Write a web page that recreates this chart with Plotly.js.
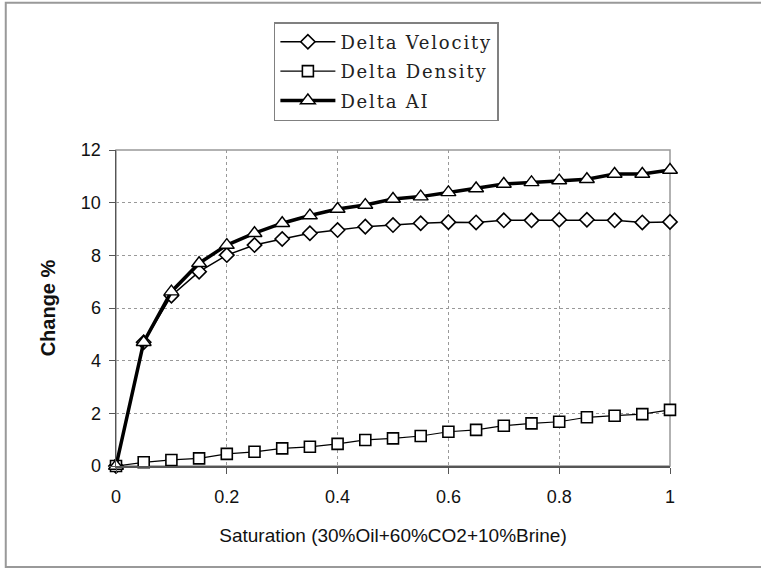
<!DOCTYPE html>
<html>
<head>
<meta charset="utf-8">
<script src="https://cdn.plot.ly/plotly-3.0.1.min.js"></script>
<style>html,body{margin:0;padding:0;background:#fff;}#chart{width:761px;height:569px;}
.legendtext{letter-spacing:1.8px;}</style>
</head>
<body>
<div id="chart"></div>
<script>
const saturation = [0,0.05,0.1,0.15,0.2,0.25,0.3,0.35,0.4,0.45,0.5,0.55,0.6,0.65,0.7,0.75,0.8,0.85,0.9,0.95,1.0];
const deltaVelocity = [0,4.7,6.47,7.38,8.01,8.39,8.62,8.84,8.96,9.09,9.15,9.22,9.26,9.25,9.33,9.33,9.35,9.35,9.33,9.25,9.27];
const deltaDensity = [0,0.14,0.23,0.29,0.46,0.54,0.67,0.73,0.84,0.99,1.05,1.14,1.30,1.37,1.53,1.62,1.68,1.85,1.91,1.97,2.13];
const deltaAI = [0,4.7,6.62,7.7,8.39,8.84,9.22,9.51,9.76,9.91,10.14,10.23,10.39,10.54,10.71,10.77,10.84,10.89,11.09,11.09,11.24];
const xTicks = [0,0.2,0.4,0.6,0.8,1];
const xTickLabels = ['0','0.2','0.4','0.6','0.8','1'];
const yTicks = [0,2,4,6,8,10,12];

const traces = [
  {x: saturation, y: deltaVelocity, name: 'Delta Velocity', mode: 'lines+markers', legendgroup: 'a', cliponaxis: false,
   line: {color: '#000', width: 1.5},
   marker: {symbol: 'diamond', size: 11, color: '#fff', line: {color: '#000', width: 1.6}}},
  {x: saturation, y: deltaDensity, name: 'Delta Density', mode: 'lines+markers', legendgroup: 'b', cliponaxis: false,
   line: {color: '#000', width: 1.2},
   marker: {symbol: 'square', size: 11, color: '#fff', line: {color: '#000', width: 1.6}}},
  {x: saturation, y: deltaAI, name: 'Delta AI', mode: 'lines+markers', legendgroup: 'c', cliponaxis: false,
   line: {color: '#000', width: 3.5},
   marker: {symbol: 'triangle-up', size: 13, color: '#fff', line: {color: '#000', width: 1.4}}}
];

const layout = {
  width: 761, height: 569,
  margin: {l: 116, r: 91, t: 150, b: 103},
  paper_bgcolor: '#fff', plot_bgcolor: '#fff',
  showlegend: true,
  legend: {
    x: 0.285, y: 1.405, xanchor: 'left', yanchor: 'top',
    bordercolor: '#808080', borderwidth: 1.5, bgcolor: '#fff',
    font: {family: 'DejaVu Serif, Liberation Serif, serif', size: 18, color: '#222'},
    tracegroupgap: 3, itemwidth: 55
  },
  xaxis: {
    range: [0, 1], tickvals: xTicks, ticktext: xTickLabels,
    showgrid: true, gridcolor: '#999', griddash: 'dot', gridwidth: 1,
    showline: true, linecolor: '#555', linewidth: 1.5, mirror: false,
    ticks: 'outside', ticklen: 6, tickcolor: '#555', ticklabelstandoff: 8,
    tickfont: {family: 'Liberation Sans, Arial, sans-serif', size: 18, color: '#111'},
    title: {text: 'Saturation (30%Oil+60%CO2+10%Brine)', standoff: 22,
      font: {family: 'Liberation Sans, Arial, sans-serif', size: 19, color: '#111'}},
    zeroline: false
  },
  yaxis: {
    range: [0, 12], tickvals: yTicks,
    showgrid: true, gridcolor: '#999', griddash: 'dot', gridwidth: 1,
    showline: true, linecolor: '#555', linewidth: 1.5,
    ticks: 'outside', ticklen: 6, tickcolor: '#555', ticklabelstandoff: 4,
    tickfont: {family: 'Liberation Sans, Arial, sans-serif', size: 18, color: '#111'},
    title: {text: '<b>Change %</b>', standoff: 20,
      font: {family: 'Liberation Sans, Arial, sans-serif', size: 20, color: '#111'}},
    zeroline: false
  },
  shapes: [
    {type: 'rect', xref: 'paper', yref: 'paper', x0: 0, x1: 1, y0: 0, y1: 1,
     line: {color: '#999', width: 1.5}, fillcolor: 'rgba(0,0,0,0)', layer: 'below'},
    {type: 'rect', xref: 'paper', yref: 'paper', x0: -0.199, x1: 1.2, y0: -0.32, y1: 1.466,
     line: {color: '#999', width: 2}, fillcolor: 'rgba(0,0,0,0)'}
  ]
};

Plotly.newPlot('chart', traces, layout, {staticPlot: true, displayModeBar: false});
</script>
</body>
</html>
